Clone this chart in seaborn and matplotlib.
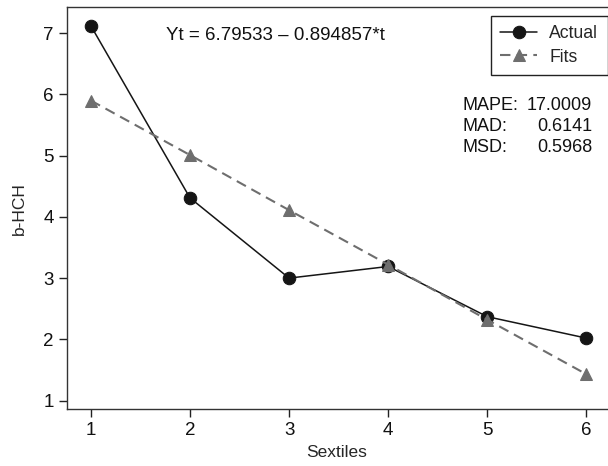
import numpy as np
import pandas as pd
from matplotlib import pyplot as plt
import seaborn as sns

sextiles = [1, 2, 3, 4, 5, 6]
actual = [7.12, 4.31, 3.00, 3.19, 2.37, 2.02]
fits = [5.90, 5.01, 4.11, 3.22, 2.32, 1.43]
stats_names = ['MAPE:', 'MAD:', 'MSD:']
stats_vals = ['17.0009', '0.6141', '0.5968']
equation = 'Yt = 6.79533 \u2013 0.894857*t'

sns.set_theme()
sns.set_style("ticks")
plt.rcParams['font.family'] = ['Liberation Sans', 'DejaVu Sans']

fig = plt.figure(figsize=(6.08, 4.66), dpi=100)
# the right side of the frame runs past the picture edge, as in the reference
ax = fig.add_axes([0.110, 0.122, 0.905, 0.862])

sns.lineplot(x=sextiles, y=actual, ax=ax, color='#151515', marker='o',
             markersize=9, markeredgecolor='#151515', linewidth=1.1, label='Actual')
sns.lineplot(x=sextiles, y=fits, ax=ax, color='#6e6e6e', marker='^',
             markersize=8, markeredgecolor='#6e6e6e', linewidth=1.5,
             linestyle=(0, (5, 3)), label='Fits')

ax.set_xlim(0.758, 6.31)
ax.set_ylim(0.86, 7.42)
ax.set_xticks(sextiles)
ax.set_yticks([1, 2, 3, 4, 5, 6, 7])
ax.tick_params(labelsize=13.5, length=6, width=1, color='#222222', labelcolor='#111111')
for s in ax.spines.values():
    s.set_visible(True)
    s.set_color('#333333')
    s.set_linewidth(1.0)
ax.spines['right'].set_visible(False)

ax.set_xlabel('Sextiles', fontsize=12.5)
ax.xaxis.set_label_coords(0.491, -0.090)
ax.set_ylabel('b-HCH', fontsize=12.5, labelpad=12)

leg = ax.legend(loc='upper right', bbox_to_anchor=(1.0, 1 - 15.7 / 466),
                bbox_transform=fig.transFigure, borderaxespad=0,
                fontsize=12.7, frameon=True, fancybox=False,
                edgecolor='#222222', framealpha=1, handlelength=2.1,
                borderpad=0.55, labelspacing=0.35, handletextpad=0.68)
leg.get_frame().set_linewidth(1.0)

fig.text(275 / 608, 1 - 36 / 466, equation, fontsize=13.5,
         ha='center', va='center', color='#111111')
for i, (n, v) in enumerate(zip(stats_names, stats_vals)):
    yy = 1 - (105 + i * 21.5) / 466
    fig.text(463 / 608, yy, n, fontsize=13, ha='left', va='center', color='#111111')
    fig.text(592 / 608, yy, v, fontsize=13, ha='right', va='center', color='#111111')

fig.savefig('out.png', dpi=100)
